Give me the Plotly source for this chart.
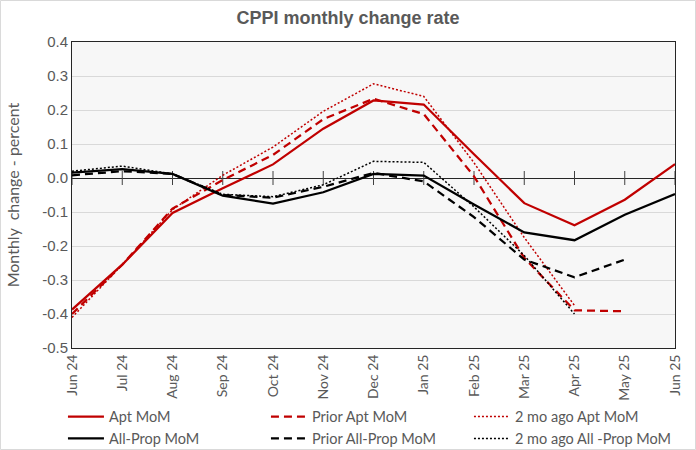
import plotly.graph_objects as go

months = ["Jun 24", "Jul 24", "Aug 24", "Sep 24", "Oct 24", "Nov 24", "Dec 24",
          "Jan 25", "Feb 25", "Mar 25", "Apr 25", "May 25", "Jun 25"]

apt_mom = [-0.387, -0.255, -0.103, -0.030, 0.040, 0.145, 0.228, 0.216, 0.070, -0.074, -0.139, -0.064, 0.041]
prior_apt_mom = [-0.400, -0.255, -0.090, -0.006, 0.068, 0.173, 0.233, 0.188, 0.005, -0.235, -0.389, -0.392, None]
two_mo_apt_mom = [-0.410, -0.255, -0.093, 0.008, 0.091, 0.196, 0.277, 0.240, 0.045, -0.175, -0.375, None, None]

allprop_mom = [0.016, 0.026, 0.012, -0.052, -0.075, -0.042, 0.012, 0.007, -0.078, -0.160, -0.183, -0.108, -0.047]
prior_allprop_mom = [0.008, 0.020, 0.012, -0.050, -0.058, -0.026, 0.015, -0.010, -0.115, -0.240, -0.292, -0.240, None]
two_mo_allprop_mom = [0.020, 0.035, 0.012, -0.048, -0.055, -0.020, 0.049, 0.046, -0.085, -0.228, -0.400, None, None]

ytick_vals = [0.4, 0.3, 0.2, 0.1, 0.0, -0.1, -0.2, -0.3, -0.4, -0.5]
ytick_text = ["0.4", "0.3", "0.2", "0.1", "0.0", "-0.1", "-0.2", "-0.3", "-0.4", "-0.5"]
zero_ticks = [0.0] * len(months)

RED = "#C00000"
BLACK = "#000000"
GRAY = "#595959"
LEG_FONT = "Lato"

series = [
    ("Apt MoM", apt_mom, RED, "solid", 2.25),
    ("Prior Apt MoM", prior_apt_mom, RED, "8px,5px", 2.25),
    ("2 mo ago Apt MoM", two_mo_apt_mom, RED, "2px,2px", 1.5),
    ("All-Prop MoM", allprop_mom, BLACK, "solid", 2.25),
    ("Prior All-Prop MoM", prior_allprop_mom, BLACK, "8px,5px", 2.25),
    ("2 mo ago All -Prop MoM", two_mo_allprop_mom, BLACK, "2px,2px", 1.5),
]

fig = go.Figure()

# tick marks crossing the zero line (horizontal axis crosses at 0)
fig.add_trace(go.Scatter(
    x=months, y=zero_ticks, mode="markers", showlegend=False, hoverinfo="skip",
    marker=dict(symbol="line-ns", size=10, line=dict(color="#404040", width=1)),
    cliponaxis=False,
))

for name, vals, color, dash, width in series:
    fig.add_trace(go.Scatter(
        x=months, y=vals, name=name, mode="lines",
        line=dict(color=color, dash=dash, width=width),
        connectgaps=False,
    ))

fig.update_layout(
    width=696, height=450,
    margin=dict(l=72, r=21, t=42, b=102, autoexpand=False),
    paper_bgcolor="white",
    plot_bgcolor="#F7F7F7",
    title=dict(text="<b>CPPI monthly change rate</b>", x=0.5, xanchor="center",
               y=0.96, yanchor="middle",
               font=dict(family="Liberation Sans", size=18, color=GRAY)),
    showlegend=True,
    legend=dict(orientation="h", x=-0.015, xanchor="left", y=-0.172, yanchor="top",
                font=dict(family=LEG_FONT, size=14.5, color=GRAY),
                entrywidth=152, entrywidthmode="pixels",
                itemwidth=36, tracegroupgap=0,
                bgcolor="rgba(0,0,0,0)"),
    shapes=[dict(type="rect", xref="paper", yref="paper",
                 x0=-0.1186, x1=1.034, y0=-0.3317, y1=1.1356,
                 line=dict(color="#D9D9D9", width=1), layer="below")],
)

fig.update_xaxes(
    type="category", range=[0, 12], automargin=False,
    tickangle=-90, ticks="", showgrid=False,
    showline=True, linecolor="#262626", linewidth=1, mirror=True,
    tickfont=dict(family=LEG_FONT, size=14, color=GRAY),
)
fig.update_yaxes(
    range=[-0.5, 0.4], tickvals=ytick_vals, ticktext=ytick_text, automargin=False,
    showgrid=True, gridcolor="#D9D9D9", gridwidth=1,
    zeroline=True, zerolinecolor="#262626", zerolinewidth=1,
    showline=True, linecolor="#262626", linewidth=1, mirror=True,
    tickfont=dict(family="Liberation Sans", size=15, color=GRAY),
    title=dict(text="Monthly  change - percent", standoff=18,
               font=dict(family=LEG_FONT, size=16, color=GRAY)),
)

fig.write_html("out.html", config={"displayModeBar": False},
               post_script="document.body.style.margin='0';document.body.style.overflow='hidden';")
